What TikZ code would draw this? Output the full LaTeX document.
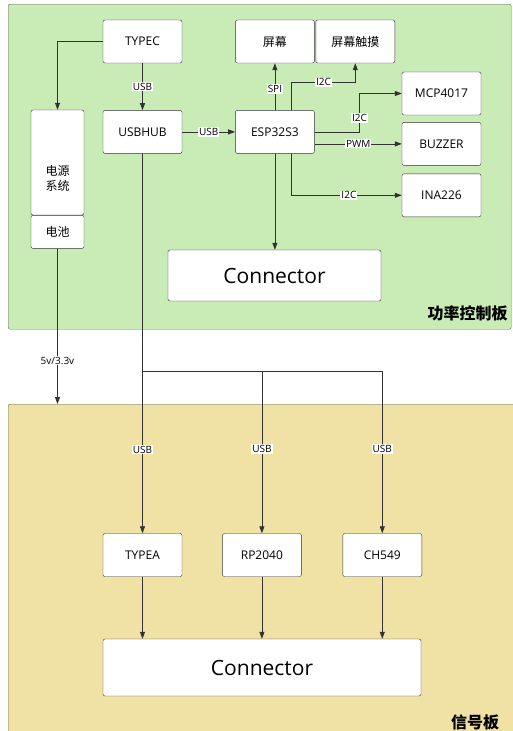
\documentclass[tikz,border=0pt]{standalone}
\usepackage{fontspec}
\setmainfont{Open Sans}
\newfontfamily\cjk{Noto Sans CJK SC}
\usetikzlibrary{positioning, arrows.meta, backgrounds}
\definecolor{ctrlgreen}{RGB}{201,235,181}
\definecolor{sigyellow}{RGB}{239,226,164}
\definecolor{linegray}{RGB}{51,51,51}

\begin{document}
\begin{tikzpicture}[x=1pt, y=-1pt]
    % Styles
    \tikzset{
        module/.style={rectangle, draw=linegray, fill=white, rounded corners=2pt, minimum width=79pt, minimum height=43pt, inner sep=0pt, font=\fontsize{12}{14}\selectfont, align=center},
        cn/.style={font=\cjk\fontsize{12}{15}\selectfont},
        bigconn/.style={module, font=\fontsize{21}{24}\selectfont},
        panel/.style={rectangle, draw=gray!80!black, rounded corners=2pt, anchor=north west, inner sep=0pt},
        panel_title/.style={font=\cjk\bfseries\fontsize{16}{18}\selectfont, inner sep=0pt},
        bus_label/.style={fill=white, inner sep=1pt, font=\fontsize{10}{12}\selectfont},
        wire/.style={draw=linegray, line width=0.8pt},
        bus_arrow/.style={wire, -{Triangle[length=7pt, width=5pt]}}
    }
    \useasboundingbox (0,0) rectangle (512,731);

    % --- Power control board ---
    \node[module] (typec) at (142.5,41.5) {TYPEC};
    \node[module, below=47pt of typec] (usbhub) {USBHUB};
    \node[module, right=53pt of usbhub] (esp) {ESP32S3};
    \node[module, cn, above=47pt of esp] (screen) {屏幕};
    \node[module, cn, right=1pt of screen] (touch) {屏幕触摸};
    \node[module] (mcp) at (441.5,93.5) {MCP4017};
    \node[module, below=7pt of mcp] (buzzer) {BUZZER};
    \node[module, below=8pt of buzzer] (ina) {INA226};
    \node[module, minimum width=53pt, minimum height=105pt] (power) at (57.5,162.5) {};
    \node[cn, align=center, inner sep=0pt] (power_text) at (57.5,178) {电源\\系统};
    \node[module, cn, minimum width=53pt, minimum height=33pt, below=0pt of power] (battery) {电池};
    \node[bigconn, minimum width=213pt, minimum height=51pt] (conn_top) at (274.5,275.5) {Connector};
    \node[panel_title] (ctrl_title) at (467.5,313) {功率控制板};

    % --- Signal board ---
    \node[module] (typea) at (142.5,555) {TYPEA};
    \node[module, right=40pt of typea] (rp2040) {RP2040};
    \node[module, right=41pt of rp2040] (ch549) {CH549};
    \node[bigconn, minimum width=318pt, minimum height=57pt] (conn_bot) at (262,667.5) {Connector};
    \node[panel_title] (sig_title) at (475,722) {信号板};

    % --- Connections ---
    \draw[bus_arrow] (typec.west) -| (power.north);
    \draw[bus_arrow] (typec) -- node[bus_label] {USB} (usbhub);
    \draw[bus_arrow] (usbhub) -- node[bus_label] {USB} (esp);
    \draw[bus_arrow] (esp) -- node[bus_label, pos=0.45] {SPI} (screen);
    \draw[bus_arrow] ([xshift=16.7pt]esp.north) -- ++(0,-28) -| node[bus_label, pos=0.25] {I2C} (touch.south);
    \draw[bus_arrow] (esp.east) -- ++(45,0) |- node[bus_label, pos=0.18] {I2C} (mcp.west);
    \draw[bus_arrow] (esp.east |- buzzer.west) -- node[bus_label] {PWM} (buzzer.west);
    \draw[bus_arrow] ([xshift=16.7pt]esp.south) |- node[bus_label, pos=0.76] {I2C} (ina.west);
    \draw[bus_arrow] (esp.south) -- (esp.south |- conn_top.north);

    % USB hub down to the signal board
    \coordinate (bus) at (0,371);
    \draw[wire] (typea.north |- bus) -- (ch549.north |- bus);
    \draw[bus_arrow] (usbhub.south) -- node[bus_label, pos=0.78] {USB} (typea.north);
    \draw[bus_arrow] (rp2040.north |- bus) -- node[bus_label, pos=0.48] {USB} (rp2040.north);
    \draw[bus_arrow] (ch549.north |- bus) -- node[bus_label, pos=0.48] {USB} (ch549.north);
    \draw[bus_arrow] (typea) -- (typea |- conn_bot.north);
    \draw[bus_arrow] (rp2040) -- (rp2040 |- conn_bot.north);
    \draw[bus_arrow] (ch549) -- (ch549 |- conn_bot.north);

    % --- Boards ---
    \begin{scope}[on background layer]
        \node[panel, fill=ctrlgreen, minimum width=503pt, minimum height=325pt] (ctrl_board) at (8,4) {};
        \node[panel, fill=sigyellow, minimum width=512pt, minimum height=340pt] (sig_board) at (8,404) {};
    \end{scope}

    % Battery supply
    \draw[bus_arrow] (battery.south) -- node[bus_label, pos=0.72] {5v/3.3v} (battery.south |- sig_board.north);
\end{tikzpicture}
\end{document}
